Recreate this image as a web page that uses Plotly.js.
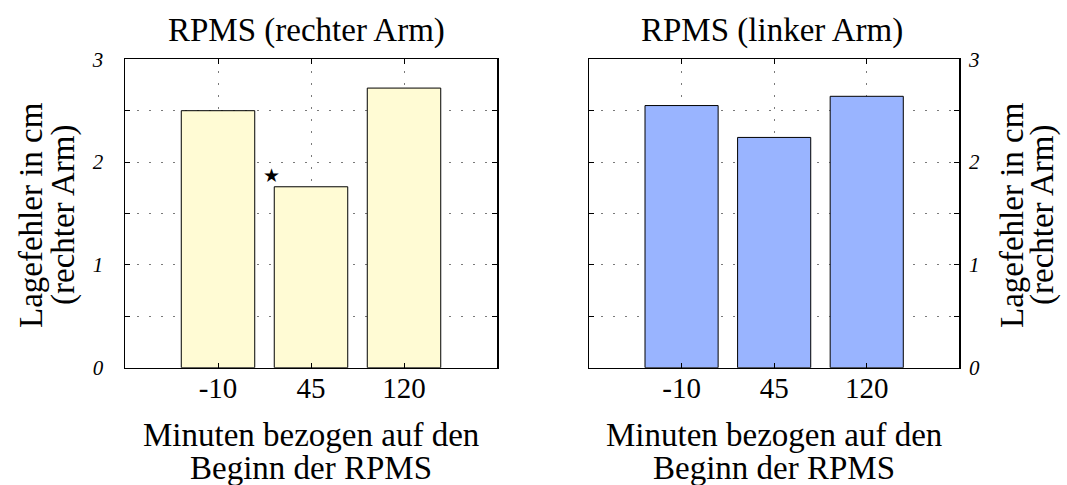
<!DOCTYPE html>
<html>
<head>
<meta charset="utf-8">
<script src="https://cdn.plot.ly/plotly-3.0.1.min.js"></script>
<style>
  html, body { margin: 0; padding: 0; background: #fff; }
  #chart { width: 1067px; height: 485px; }
</style>
</head>
<body>
<div id="chart"></div>
<script>
// ---- data ----
const categories = ['-10', '45', '120'];
const rightArmValues = [2.50, 1.76, 2.72];
const leftArmValues = [2.55, 2.24, 2.64];
const yTickVals = [0, 0.5, 1, 1.5, 2, 2.5, 3];
const yTickText = ['0', '', '1', '', '2', '', '3'];
const significantIndex = 1; // marked with a star in the right-arm panel

const leftTitle = 'RPMS (rechter Arm)';
const rightTitle = 'RPMS (linker Arm)';
const xTitleLines = ['Minuten bezogen auf den', 'Beginn der RPMS'];
const yTitleLines = ['Lagefehler in cm', '(rechter Arm)'];

// ---- styling ----
const SERIF = 'Liberation Serif, Times New Roman, serif';
const W = 1067, H = 485;
const px = v => v / W;
const py = v => 1 - v / H;

const yellow = '#FFFBD4';
const blue = '#99B4FF';

const traces = [
  {
    type: 'bar', x: categories, y: rightArmValues, xaxis: 'x', yaxis: 'y',
    width: 0.79,
    marker: { color: yellow, line: { color: '#000', width: 1 } },
    hoverinfo: 'x+y', showlegend: false
  },
  {
    type: 'bar', x: categories, y: leftArmValues, xaxis: 'x2', yaxis: 'y2',
    width: 0.79,
    marker: { color: blue, line: { color: '#000', width: 1 } },
    hoverinfo: 'x+y', showlegend: false
  }
];

const gridDash = '1.5px,10.5px';
const gridColor = '#7a7a7a';

function xAxis(domain, anchor) {
  return {
    domain: domain, anchor: anchor,
    type: 'category', categoryorder: 'array', categoryarray: categories,
    range: [-1, 3], fixedrange: true,
    showline: true, linecolor: '#000', linewidth: 1.5, mirror: 'ticks',
    ticks: 'inside', ticklen: 5, tickcolor: '#000', tickwidth: 1,
    showgrid: true, gridcolor: gridColor, griddash: gridDash, gridwidth: 1,
    zeroline: false,
    ticklabelstandoff: -6,
    tickfont: { family: SERIF, size: 29, color: '#000' }
  };
}
function yAxis(domain, anchor, side, standoff) {
  return {
    domain: domain, anchor: anchor, side: side,
    range: [0, 3], fixedrange: true,
    tickmode: 'array', tickvals: yTickVals, ticktext: yTickText,
    showline: true, linecolor: '#000', linewidth: 1.5, mirror: 'ticks',
    ticks: 'inside', ticklen: 5, tickcolor: '#000', tickwidth: 1,
    showgrid: true, gridcolor: gridColor, griddash: gridDash, gridwidth: 1,
    zeroline: false,
    ticklabelstandoff: standoff,
    tickfont: { family: SERIF, size: 21, color: '#000', style: 'italic' }
  };
}

const yDom = [py(367.7), py(59.3)];
const annFont = { family: SERIF, size: 33, color: '#000' };

const annotations = [
  { text: leftTitle, xref: 'paper', yref: 'paper', x: px(306), y: py(31), xanchor: 'center', yanchor: 'middle', showarrow: false, font: annFont },
  { text: rightTitle, xref: 'paper', yref: 'paper', x: px(772), y: py(31), xanchor: 'center', yanchor: 'middle', showarrow: false, font: annFont },
  { text: xTitleLines[0], xref: 'paper', yref: 'paper', x: px(311), y: py(435), xanchor: 'center', yanchor: 'middle', showarrow: false, font: annFont },
  { text: xTitleLines[1], xref: 'paper', yref: 'paper', x: px(311), y: py(468), xanchor: 'center', yanchor: 'middle', showarrow: false, font: annFont },
  { text: xTitleLines[0], xref: 'paper', yref: 'paper', x: px(774), y: py(435), xanchor: 'center', yanchor: 'middle', showarrow: false, font: annFont },
  { text: xTitleLines[1], xref: 'paper', yref: 'paper', x: px(774), y: py(468), xanchor: 'center', yanchor: 'middle', showarrow: false, font: annFont },
  { text: yTitleLines[0], xref: 'paper', yref: 'paper', x: px(31), y: py(215), xanchor: 'center', yanchor: 'middle', textangle: -90, showarrow: false, font: annFont },
  { text: yTitleLines[1], xref: 'paper', yref: 'paper', x: px(63), y: py(215), xanchor: 'center', yanchor: 'middle', textangle: -90, showarrow: false, font: annFont },
  { text: yTitleLines[0], xref: 'paper', yref: 'paper', x: px(1012), y: py(215), xanchor: 'center', yanchor: 'middle', textangle: -90, showarrow: false, font: annFont },
  { text: yTitleLines[1], xref: 'paper', yref: 'paper', x: px(1042), y: py(215), xanchor: 'center', yanchor: 'middle', textangle: -90, showarrow: false, font: annFont },
  // significance star next to the 45-minute bar of the right-arm panel
  { text: '★', xref: 'x', yref: 'y', x: significantIndex - 0.43, y: rightArmValues[significantIndex] + 0.11,
    xanchor: 'center', yanchor: 'middle', showarrow: false,
    font: { family: 'DejaVu Sans', size: 19, color: '#000' } }
];

const layout = {
  width: W, height: H,
  margin: { l: 0, r: 0, t: 0, b: 0, pad: 0 },
  paper_bgcolor: '#fff', plot_bgcolor: '#fff',
  showlegend: false,
  bargap: 0.2,
  xaxis: xAxis([px(125), px(497)], 'y'),
  yaxis: yAxis(yDom, 'x', 'left', 16),
  xaxis2: xAxis([px(589), px(959.3)], 'y2'),
  yaxis2: yAxis(yDom, 'x2', 'right', 4),
  annotations: annotations
};

Plotly.newPlot('chart', traces, layout, { staticPlot: true, displayModeBar: false });
</script>
</body>
</html>
